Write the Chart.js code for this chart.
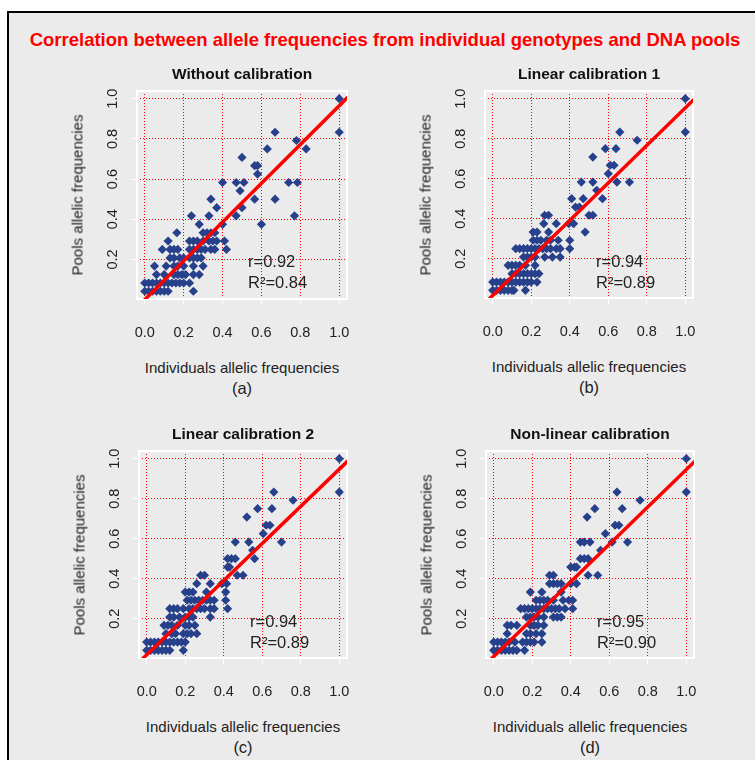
<!DOCTYPE html>
<html>
<head>
<meta charset="utf-8">
<script src="https://cdn.jsdelivr.net/npm/chart.js@4.4.1/dist/chart.umd.min.js"></script>
<style>
  html, body { margin: 0; padding: 0; overflow: hidden; background: #fff; }
  body { width: 755px; height: 760px; position: relative; font-family: "Liberation Sans", Arial, sans-serif; }
  #frame { position: absolute; left: 7px; top: 11px; width: 760px; height: 760px; background: #ebebeb;
           border-top: 2px solid #000; border-left: 2px solid #000; }
  .txt { position: absolute; transform: translate(-50%, -50%); white-space: nowrap; color: #222; }
  .stat { position: absolute; transform: translateY(-50%); white-space: nowrap; color: #222; font-size: 16.5px; }
  #main { left: 385px; top: 40px; color: #ff0000; font-weight: bold; font-size: 18.5px; }
  canvas { position: absolute; }
</style>
</head>
<body>
<div id="frame"></div>
<div id="main" class="txt">Correlation between allele frequencies from individual genotypes and DNA pools</div>
<script>
// tick labels
const xTicks = [0, 0.2, 0.4, 0.6, 0.8, 1.0];
const yTicks = [0.2, 0.4, 0.6, 0.8, 1.0];

// each row: [pool frequency, individual frequencies at that level]
const rowsA = [
  [0.042, [0, 0.02, 0.04, 0.06, 0.08, 0.10, 0.12, 0.25]],
  [0.083, [0, 0.02, 0.04, 0.06, 0.08, 0.10, 0.12, 0.14, 0.16, 0.18, 0.20, 0.23]],
  [0.125, [0.06, 0.10, 0.15, 0.17, 0.19, 0.21, 0.25, 0.28]],
  [0.167, [0.05, 0.11, 0.15, 0.17, 0.20, 0.25, 0.30]],
  [0.208, [0.13, 0.15, 0.18, 0.20, 0.23, 0.25, 0.27, 0.29]],
  [0.250, [0.09, 0.13, 0.15, 0.17, 0.23, 0.25, 0.27, 0.29, 0.31, 0.34, 0.36, 0.42]],
  [0.292, [0.12, 0.23, 0.25, 0.27, 0.30, 0.33, 0.35, 0.37, 0.41]],
  [0.333, [0.165, 0.30, 0.32, 0.34, 0.36]],
  [0.375, [0.28, 0.40, 0.60]],
  [0.417, [0.24, 0.33, 0.47, 0.77]],
  [0.458, [0.37, 0.50]],
  [0.500, [0.34, 0.565, 0.67]],
  [0.542, [0.49]],
  [0.583, [0.40, 0.47, 0.51, 0.74, 0.785]],
  [0.625, [0.58]],
  [0.667, [0.565, 0.58]],
  [0.708, [0.50]],
  [0.750, [0.63, 0.83]],
  [0.792, [0.78]],
  [0.833, [0.67, 1.0]],
  [1.000, [1.0]]
];
const rowsB = [
  [0.042, [0, 0.02, 0.04, 0.06, 0.08, 0.10, 0.11, 0.17]],
  [0.083, [0, 0.02, 0.04, 0.06, 0.08, 0.10, 0.12, 0.14, 0.16, 0.18, 0.20, 0.23]],
  [0.125, [0.10, 0.12, 0.14, 0.16, 0.18, 0.20, 0.22, 0.24]],
  [0.167, [0.08, 0.10, 0.12, 0.14, 0.17, 0.22]],
  [0.208, [0.16, 0.18, 0.20, 0.22, 0.27, 0.31, 0.35]],
  [0.250, [0.12, 0.14, 0.16, 0.18, 0.20, 0.22, 0.24, 0.26, 0.28, 0.30, 0.33, 0.35, 0.40]],
  [0.292, [0.21, 0.23, 0.25, 0.28, 0.30, 0.34, 0.40]],
  [0.333, [0.21, 0.23, 0.29, 0.48]],
  [0.375, [0.265, 0.33, 0.395, 0.42]],
  [0.417, [0.27, 0.29, 0.50, 0.52]],
  [0.458, [0.43, 0.45]],
  [0.500, [0.41, 0.47, 0.57]],
  [0.542, [0.54]],
  [0.583, [0.46, 0.52, 0.645, 0.71]],
  [0.625, [0.60]],
  [0.667, [0.61, 0.63]],
  [0.708, [0.52]],
  [0.750, [0.585, 0.64]],
  [0.792, [0.75]],
  [0.833, [0.66, 1.0]],
  [1.000, [1.0]]
];
const rowsC = [
  [0.042, [0, 0.02, 0.04, 0.06, 0.08, 0.10, 0.12, 0.19]],
  [0.083, [0, 0.02, 0.04, 0.06, 0.08, 0.10, 0.12, 0.14, 0.16, 0.18, 0.20]],
  [0.125, [0.10, 0.13, 0.15, 0.19, 0.21, 0.23, 0.26]],
  [0.167, [0.09, 0.11, 0.13, 0.16, 0.20, 0.22, 0.25]],
  [0.208, [0.12, 0.14, 0.17, 0.20, 0.22, 0.24, 0.33]],
  [0.250, [0.12, 0.14, 0.16, 0.19, 0.22, 0.24, 0.26, 0.28, 0.30, 0.33, 0.35, 0.42]],
  [0.292, [0.21, 0.23, 0.25, 0.27, 0.29, 0.31, 0.33, 0.35, 0.41]],
  [0.333, [0.20, 0.22, 0.24, 0.31, 0.41]],
  [0.375, [0.26, 0.33, 0.39, 0.415]],
  [0.417, [0.28, 0.30, 0.47, 0.50]],
  [0.458, [0.42, 0.43]],
  [0.500, [0.42, 0.44, 0.46, 0.56]],
  [0.542, [0.55]],
  [0.583, [0.46, 0.53, 0.70]],
  [0.625, [0.605]],
  [0.667, [0.62, 0.64]],
  [0.708, [0.52]],
  [0.750, [0.576, 0.65]],
  [0.792, [0.76]],
  [0.833, [0.66, 1.0]],
  [1.000, [1.0]]
];
const rowsD = [
  [0.042, [0, 0.02, 0.04, 0.06, 0.08, 0.10, 0.12, 0.16]],
  [0.083, [0, 0.02, 0.04, 0.06, 0.08, 0.11, 0.15, 0.17, 0.19, 0.21, 0.25]],
  [0.125, [0.07, 0.17, 0.19, 0.22, 0.25]],
  [0.167, [0.07, 0.09, 0.12, 0.19, 0.21, 0.23, 0.26]],
  [0.208, [0.17, 0.19, 0.21, 0.23, 0.26, 0.31, 0.33, 0.35]],
  [0.250, [0.14, 0.16, 0.18, 0.20, 0.22, 0.24, 0.26, 0.28, 0.30, 0.32, 0.34, 0.37, 0.41]],
  [0.292, [0.22, 0.24, 0.26, 0.28, 0.31, 0.36, 0.39, 0.41]],
  [0.333, [0.19, 0.25, 0.35]],
  [0.375, [0.29, 0.31, 0.33, 0.35, 0.40, 0.43]],
  [0.417, [0.29, 0.31, 0.49, 0.54]],
  [0.458, [0.40, 0.42, 0.43]],
  [0.500, [0.45, 0.47, 0.49]],
  [0.542, [0.555]],
  [0.583, [0.45, 0.47, 0.50, 0.615, 0.695]],
  [0.625, [0.58]],
  [0.667, [0.63, 0.65]],
  [0.708, [0.485]],
  [0.750, [0.525, 0.667]],
  [0.792, [0.76]],
  [0.833, [0.64, 1.0]],
  [1.000, [1.0]]
];

// regression lines, endpoints
const fitA = [[-0.05, -0.048], [1.05, 1.013]];
const fitB = [[-0.05, -0.031], [1.05, 1.001]];
const fitC = [[-0.05, -0.027], [1.05, 0.994]];
const fitD = [[-0.05, -0.036], [1.05, 0.992]];

const titles = ['Without calibration', 'Linear calibration 1', 'Linear calibration 2', 'Non-linear calibration'];
const rVals = ['0.92', '0.94', '0.94', '0.95'];
const r2Vals = ['0.84', '0.89', '0.89', '0.90'];
const letters = ['(a)', '(b)', '(c)', '(d)'];

Chart.defaults.font.family = '"Liberation Sans", Arial, sans-serif';

// white box round the plot region
const frameBox = {
  id: 'frameBox',
  beforeDatasetsDraw(chart) {
    const { ctx, chartArea: a } = chart;
    ctx.save();
    ctx.strokeStyle = '#ffffff';
    ctx.lineWidth = 2;
    ctx.strokeRect(a.left, a.top, a.right - a.left, a.bottom - a.top);
    ctx.restore();
  }
};

function addText(cls, x, y, text, style) {
  const d = document.createElement('div');
  d.className = cls;
  d.textContent = text;
  d.style.left = x + 'px';
  d.style.top = y + 'px';
  Object.assign(d.style, style || {});
  document.body.appendChild(d);
}

// plot boxes (left, top, right, bottom) in page pixels
const boxes = [[137, 91, 347, 299], [485, 91, 693, 298], [139, 451, 347, 658], [486, 451, 694, 658]];
const allRows = [rowsA, rowsB, rowsC, rowsD];
const allFits = [fitA, fitB, fitC, fitD];
const PAD_T = 24, PAD_R = 34, AX_Y = 60, AX_X = 48;

boxes.forEach(([l, t, r, b], i) => {
  const W = r - l + AX_Y + PAD_R, H = b - t + PAD_T + AX_X;
  const cv = document.createElement('canvas');
  cv.width = W; cv.height = H;
  cv.style.left = (l - AX_Y) + 'px';
  cv.style.top = (t - PAD_T) + 'px';
  cv.style.width = W + 'px';
  cv.style.height = H + 'px';
  document.body.appendChild(cv);

  const pts = [];
  allRows[i].forEach(([y, xs]) => xs.forEach(x => pts.push({ x: x, y: y })));

  new Chart(cv, {
    data: {
      datasets: [
        { type: 'line', data: allFits[i].map(([x, y]) => ({ x: x, y: y })), borderColor: '#ff0000',
          borderWidth: 3.5, pointRadius: 0, clip: 0, order: 0 },
        { type: 'scatter', data: pts, backgroundColor: '#27408b', borderWidth: 0,
          pointStyle: 'rectRot', pointRadius: 4.6, order: 1 }
      ]
    },
    options: {
      responsive: false,
      animation: false,
      devicePixelRatio: 1,
      layout: { padding: { top: PAD_T, right: PAD_R, left: 0, bottom: 0 } },
      plugins: { legend: { display: false }, tooltip: { enabled: false } },
      scales: {
        x: {
          type: 'linear', min: -0.04, max: 1.04,
          afterBuildTicks: s => { s.ticks = xTicks.map(v => ({ value: v })); },
          afterFit: s => { s.height = AX_X; },
          grid: { color: '#ff0000', lineWidth: 1, tickColor: '#ffffff', tickLength: 6, tickWidth: 1 },
          border: { display: false, dash: [1, 2] },
          ticks: { color: '#222', font: { size: 14.5 }, padding: 19, maxRotation: 0,
                   callback: v => v.toFixed(1) }
        },
        y: {
          type: 'linear', min: 0.0034, max: 1.0383,
          afterBuildTicks: s => { s.ticks = yTicks.map(v => ({ value: v })); },
          afterFit: s => { s.width = AX_Y; },
          grid: { color: '#ff0000', lineWidth: 1, tickColor: '#ffffff', tickLength: 6, tickWidth: 1 },
          border: { display: false, dash: [1, 2] },
          ticks: { color: '#222', font: { size: 14.5 }, padding: 8, minRotation: 90, maxRotation: 90,
                   crossAlign: 'center', callback: v => v.toFixed(1) }
        }
      }
    },
    plugins: [frameBox]
  });

  const cx = (l + r) / 2, cy = (t + b) / 2;
  addText('txt', cx, t - 17, titles[i], { fontWeight: 'bold', fontSize: '15.5px', color: '#111' });
  addText('txt', l - 60, cy, 'Pools allelic frequencies', { fontSize: '15px', transform: 'translate(-50%, -50%) rotate(-90deg)' });
  addText('txt', cx, b + 68, 'Individuals allelic frequencies', { fontSize: '15px' });
  addText('txt', cx, b + 89, letters[i], { fontSize: '16.5px' });
  addText('stat', l + 111, t + 170, 'r=' + rVals[i]);
  addText('stat', l + 111, t + 191, 'R²=' + r2Vals[i]);
});
</script>
</body>
</html>
